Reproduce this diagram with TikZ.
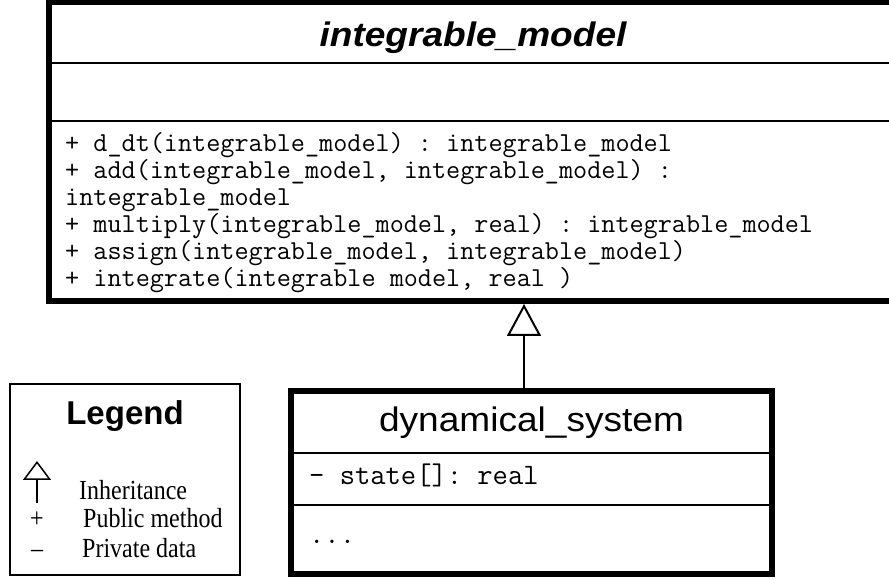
\documentclass[tikz,border=0pt]{standalone}
\usepackage{fontspec}
\setmainfont{Liberation Serif}
\setsansfont{Liberation Sans}
\usetikzlibrary{arrows.meta}

% wide sans class names, tall serif key entries
\newcommand{\wideName}[1]{\scalebox{1.09}[1]{#1}}
\newcommand{\tallKey}[1]{\scalebox{1}[1.15]{#1}}

\begin{document}
\begin{tikzpicture}[x=1pt,y=1pt,
	classframe/.style={draw,line width=6pt,inner sep=0pt},
	divider/.style={line width=2.5pt},
	classname/.style={anchor=base,font=\sffamily\fontsize{34}{40}\selectfont},
	member/.style={anchor=base west,inner sep=0pt,font=\ttfamily\frenchspacing\fontsize{27.4}{30}\selectfont},
	keytext/.style={anchor=base west,inner sep=0pt,font=\rmfamily\fontsize{24}{27}\selectfont},
	inherit/.style={line width=2pt,-{Triangle[open,length=32pt,width=34pt]}},
	inheritkey/.style={line width=1.5pt,-{Triangle[open,length=19pt,width=28pt]}}]
	\useasboundingbox (0,0) rectangle (889,580);
	\clip (0,0) rectangle (889,580);

	% base class
	\node[classframe,minimum width=847.5pt,minimum height=299pt] (model) at (472.25,428.5) {};
	\path (0,517) coordinate (mA) (0,459) coordinate (mB);
	\draw[divider] (model.west |- mA) -- (model.east |- mA);
	\draw[divider] (model.west |- mB) -- (model.east |- mB);
	\node[classname,font=\sffamily\bfseries\itshape\fontsize{34}{40}\selectfont] (modelname) at (473,533) {\wideName{integrable\_model}};
	\node[member] (op1) at (65,428) {+ d\_dt(integrable\_model) : integrable\_model};
	\node[member] (op2) at (65,401) {+ add(integrable\_model, integrable\_model) :};
	\node[member] (op3) at (65,374) {integrable\_model};
	\node[member] (op4) at (65,347) {+ multiply(integrable\_model, real) : integrable\_model};
	\node[member] (op5) at (65,320) {+ assign(integrable\_model, integrable\_model)};
	\node[member] (op6) at (65,293) {+ integrate(integrable model, real )};

	% derived class
	\node[classframe,minimum width=481pt,minimum height=183pt] (sys) at (531.5,97.5) {};
	\path (0,127) coordinate (sA) (0,75) coordinate (sB);
	\draw[divider] (sys.west |- sA) -- (sys.east |- sA);
	\draw[divider] (sys.west |- sB) -- (sys.east |- sB);
	\node[classname] (sysname) at (531.5,148) {\wideName{dynamical\_system}};
	\node[member,font=\ttfamily\frenchspacing\fontsize{29.7}{32}\selectfont] (attr1) at (309,95) {- state[]: real};
	\node[member,font=\ttfamily\frenchspacing\fontsize{29.7}{32}\selectfont] (more) at (309,36) {...};

	% generalisation
	\coordinate (ax) at (524,0);
	\draw[inherit] (sys.north -| ax) -- (model.south -| ax);

	% key
	\node[draw,line width=1.5pt,minimum width=230pt,minimum height=191pt,inner sep=0pt] (legend) at (125,100.5) {};
	\node[anchor=base,font=\sffamily\bfseries\fontsize{33}{40}\selectfont] (legendtitle) at (125,155) {Legend};
	\coordinate (keyA) at (37,77);
	\coordinate (keyB) at (37,119);
	\draw[inheritkey] (keyA) -- (keyB);
	\node[keytext] (k1) at (79,80) {\tallKey{Inheritance}};
	\node[keytext,anchor=base] (plus) at (37,52) {\tallKey{+}};
	\node[keytext] (k2) at (83,52) {\tallKey{Public method}};
	\node[keytext,anchor=base] (minus) at (37,22) {\tallKey{--}};
	\node[keytext] (k3) at (82,22) {\tallKey{Private data}};
\end{tikzpicture}
\end{document}
